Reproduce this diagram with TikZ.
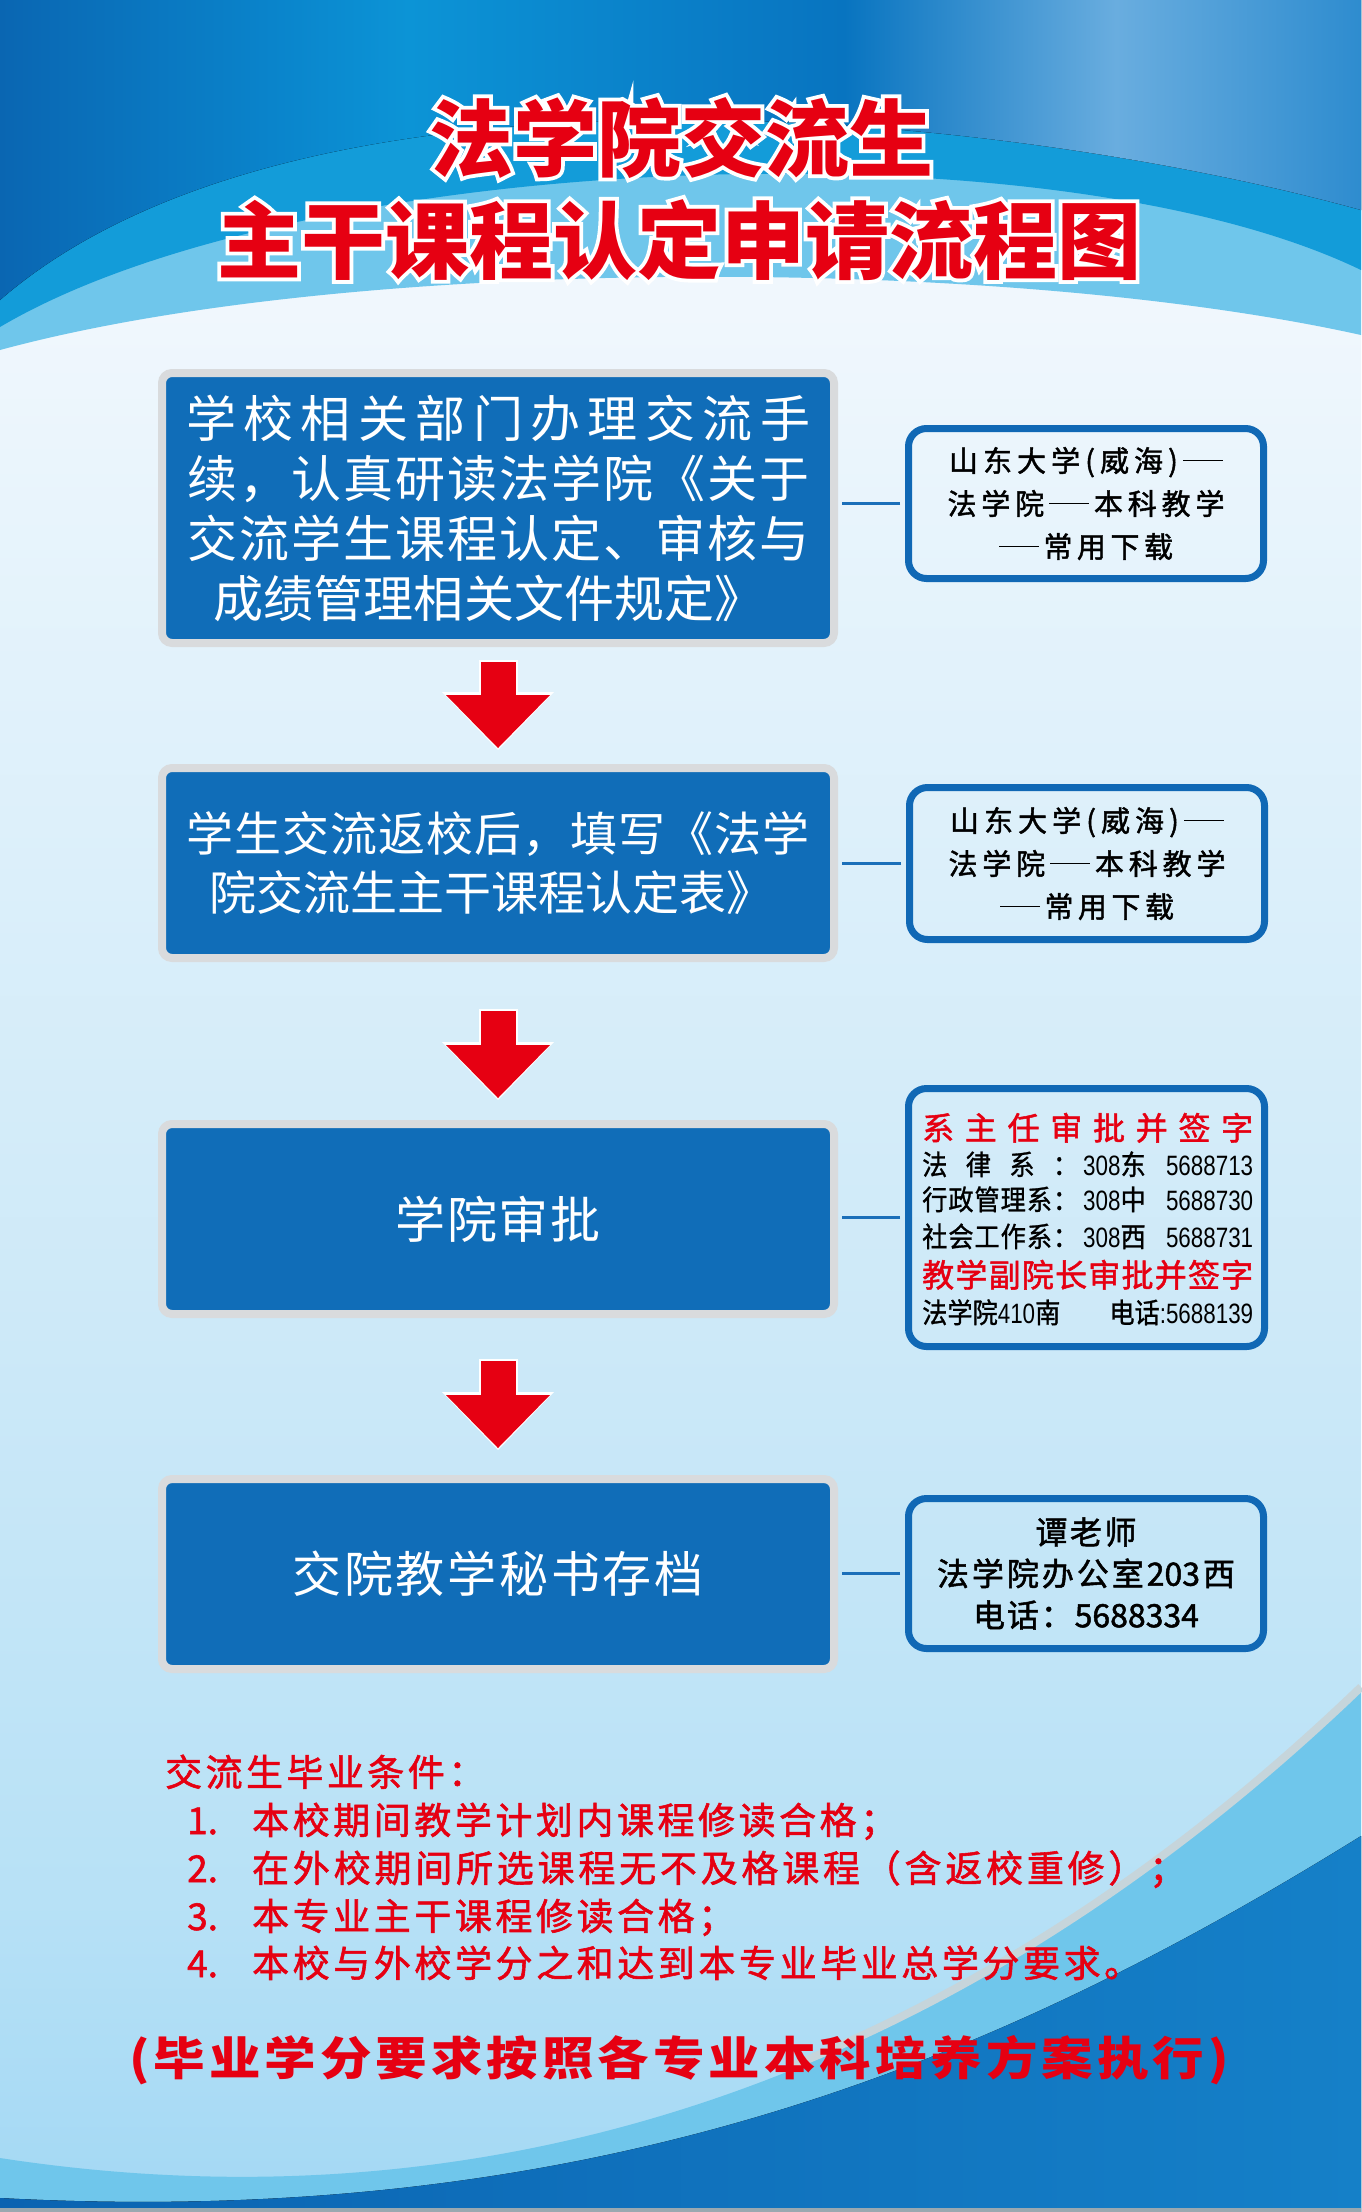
\documentclass[tikz,border=0pt]{standalone}
\usepackage{fontspec}
\usepackage{graphicx}
\setmainfont{Noto Sans CJK SC}
\newfontfamily\cjk{Noto Sans CJK SC}
\newfontfamily\cjkm{Noto Sans CJK SC}[FakeBold=1.5]
\newfontfamily\cjkn{Noto Sans CJK SC}[FakeStretch=0.9, FakeBold=1]
\newfontfamily\cjkwide{Noto Sans CJK SC}[FakeStretch=1.12]
\newfontfamily\titleol{Noto Sans CJK SC}[BoldFeatures={FakeBold=9}]
\newfontfamily\narrowdig{Liberation Sans}[FakeStretch=0.8]
\usetikzlibrary{arrows.meta}

\definecolor{titlered}{HTML}{E60012}
\definecolor{boxblue}{HTML}{106DB8}
\definecolor{boxgray}{HTML}{D9DBDD}
\definecolor{rbblue}{HTML}{1068B5}
\definecolor{linkblue}{HTML}{1B6FB9}
\definecolor{cyanband}{HTML}{6FC6EB}
\definecolor{midband}{HTML}{139CD9}
\definecolor{deepA}{HTML}{0A63B1}
\definecolor{deepB}{HTML}{1580C8}
\definecolor{swoosh}{HTML}{C6D5DB}
\definecolor{edgegray}{HTML}{9AA8B0}
% background (vertical, 0bp = bottom)
\definecolor{bgA}{HTML}{A3D8F4}
\definecolor{bgB}{HTML}{B7E1F6}
\definecolor{bgC}{HTML}{CDE9F8}
\definecolor{bgD}{HTML}{E2F2FB}
\definecolor{bgE}{HTML}{F0F7FD}
% top band (horizontal, 0bp = left)
\definecolor{tA}{HTML}{0A66B2}
\definecolor{tB}{HTML}{0A84CB}
\definecolor{tC}{HTML}{0C94D6}
\definecolor{tD}{HTML}{0A7FC8}
\definecolor{tE}{HTML}{0874C0}
\definecolor{tF}{HTML}{69ADDF}
\definecolor{tG}{HTML}{2E8CCF}

\pgfdeclareverticalshading{bgsh}{100bp}{color(0bp)=(bgA); color(25bp)=(bgA); color(32bp)=(bgB); color(45bp)=(bgC); color(60bp)=(bgD); color(68bp)=(bgE); color(75bp)=(bgE); color(100bp)=(bgE)}
\pgfdeclarehorizontalshading{topsh}{100bp}{color(0bp)=(tA); color(25bp)=(tA); color(35bp)=(tB); color(40bp)=(tC); color(50bp)=(tD); color(56bp)=(tE); color(66bp)=(tF); color(75bp)=(tG); color(100bp)=(tG)}

% spread a string of tokens evenly over a given width
\makeatletter
\newcommand\sprd[2]{\makebox[#1][s]{\sprd@go#2\sprd@end}}
\def\sprd@go#1{#1\futurelet\sprd@next\sprd@chk}
\def\sprd@chk{\ifx\sprd@next\sprd@end\expandafter\@gobble\else\hfil\expandafter\sprd@go\fi}
\def\sprd@end{SPRDEND}
\makeatother

\newcommand\nd[1]{{\narrowdig #1}}
\newcommand\ldash[1]{\rule[0.35em]{#1}{1.8pt}}
% white halo behind a bold title line
\newcommand\halo[1]{\rlap{\color{white}\titleol\bfseries #1}#1}

\begin{document}
\begin{tikzpicture}[x=1pt,y=-1pt,
  mainbox/.style={rectangle, fill=boxblue, draw=boxgray, line width=8pt,
    rounded corners=10pt, minimum width=672pt, text=white, align=center, inner sep=0pt},
  infobox/.style={rectangle, draw=rbblue, line width=7pt, rounded corners=18pt,
    minimum width=355pt, align=center, inner sep=0pt, text=black},
  link/.style={draw=linkblue, line width=3pt, shorten <=5pt, shorten >=4pt},
  flowout/.style={draw=white, line width=39pt,
    -{Triangle[width=112pt,length=58pt,line width=0pt]}},
  flowin/.style={draw=titlered, line width=35pt,
    -{Triangle[width=104pt,length=53pt,line width=0pt]}},
  titletext/.style={anchor=base, inner sep=0pt, text=titlered,
    font=\cjk\bfseries\fontsize{84}{84}\selectfont},
  gradtext/.style={anchor=base west, inner sep=0pt, text=titlered,
    font=\cjkm\fontsize{37}{37}\selectfont},
  r3txt/.style={anchor=base west, inner sep=0pt, text=black,
    font=\cjkn\fontsize{28}{28}\selectfont},
  r3red/.style={r3txt, text=titlered, font=\cjkm\fontsize{32}{32}\selectfont},
  notetext/.style={anchor=base, inner sep=0pt, text=titlered,
    font=\cjkwide\bfseries\fontsize{46}{46}\selectfont}
]
\useasboundingbox (0,0) rectangle (1361,2212);

% ---------- background ----------
\fill[shading=bgsh] (0,0) rectangle (1361,2212);
\fill[cyanband] (0,0) -- (1361,0) -- (1361,335) .. controls (1000,255) and (350,255) .. (0,350) -- cycle;
\fill[midband] (0,0) -- (1361,0) -- (1361,270) .. controls (1050,120) and (300,150) .. (0,327) -- cycle;
\fill[shading=topsh] (0,0) -- (1361,0) -- (1361,210) .. controls (1000,110) and (300,40) .. (0,300) -- cycle;

\fill[cyanband] (1361,1691) .. controls (1050,1990) and (600,2250) .. (0,2158) -- (0,2212) -- (1361,2212) -- cycle;
\fill[left color=deepA, right color=deepB] (1361,1836) .. controls (1000,2060) and (600,2230) .. (0,2198) -- (0,2212) -- (1361,2212) -- cycle;
\draw[swoosh, line width=8pt] (1361,1687) .. controls (1205.5,1836.5) and (1015.25,1976.25) .. (788.9,2067.1);
\fill[edgegray] (0,2208) rectangle (1361,2212);

% ---------- title ----------
\node[titletext] (t1) at (681,170) {\halo{法学院交流生}};
\node[titletext] (t2) at (679,272) {\halo{主干课程认定申请流程图}};

% ---------- main flow ----------
\node[mainbox, minimum height=270pt, font=\cjk\fontsize{50}{60}\selectfont] (b1) at (498,508)
  {\sprd{624pt}{学校相关部门办理交流手}\\\sprd{622pt}{续，认真研读法学院《关于}\\\sprd{622pt}{交流学生课程认定、审核与}\\\sprd{551pt}{成绩管理相关文件规定》}\hspace*{18pt}};
\node[mainbox, minimum height=190pt, font=\cjk\fontsize{47}{59}\selectfont] (b2) at (498,863)
  {\sprd{624pt}{学生交流返校后，填写《法学}\\\sprd{556pt}{院交流生主干课程认定表》}\hspace*{22pt}};
\node[mainbox, minimum height=190pt, font=\cjk\fontsize{50}{60}\selectfont] (b3) at (498,1219)
  {\sprd{205pt}{学院审批}};
\node[mainbox, minimum height=190pt, font=\cjk\fontsize{49}{60}\selectfont] (b4) at (498,1574)
  {\sprd{411pt}{交院教学秘书存档}};

% arrows
\draw[flowout, shorten <=13pt, shorten >=14pt] (b1.south) -- (b2.north);
\draw[flowin,  shorten <=15pt, shorten >=16pt] (b1.south) -- (b2.north);
\draw[flowout, shorten <=47pt, shorten >=20pt] (b2.south) -- (b3.north);
\draw[flowin,  shorten <=49pt, shorten >=22pt] (b2.south) -- (b3.north);
\draw[flowout, shorten <=41pt, shorten >=25pt] (b3.south) -- (b4.north);
\draw[flowin,  shorten <=43pt, shorten >=27pt] (b3.south) -- (b4.north);

% ---------- side boxes ----------
\node[infobox, minimum height=150pt, font=\cjkm\fontsize{29}{43}\selectfont] (r1) at (1086,503.5)
  {\sprd{274pt}{山东大学(威海){\ldash{40pt}}}\\\sprd{277pt}{法学院{\ldash{40pt}}本科教学}\\\sprd{174pt}{{\ldash{40pt}}常用下载}};
\node[infobox, minimum height=152pt, font=\cjkm\fontsize{29}{43}\selectfont] (r2) at (1087,863.5)
  {\sprd{274pt}{山东大学(威海){\ldash{40pt}}}\\\sprd{277pt}{法学院{\ldash{40pt}}本科教学}\\\sprd{174pt}{{\ldash{40pt}}常用下载}};
\node[infobox, minimum height=258pt, minimum width=356pt] (r3) at (1086.5,1217.5) {};
\node[infobox, minimum height=150pt, font=\cjkm\fontsize{32}{41.5}\selectfont] (r4) at (1086,1573.5)
  {\sprd{101pt}{谭老师}\\\sprd{298pt}{法学院办公室{203}西}\hspace*{16pt}\\\sprd{226pt}{电话：{5688334}}};

\node[r3red] (r3a) at (922,1140) {\sprd{331pt}{系主任审批并签字}};
\node[r3txt] (r3b) at (922,1175) {\makebox[331pt][l]{\sprd{156pt}{法律系：}\hspace{5pt}\nd{308}东\hfill\nd{5688713}}};
\node[r3txt] (r3c) at (922,1210) {\makebox[331pt][l]{\sprd{156pt}{行政管理系：}\hspace{5pt}\nd{308}中\hfill\nd{5688730}}};
\node[r3txt] (r3d) at (922,1247) {\makebox[331pt][l]{\sprd{156pt}{社会工作系：}\hspace{5pt}\nd{308}西\hfill\nd{5688731}}};
\node[r3red] (r3e) at (922,1287) {\sprd{331pt}{教学副院长审批并签字}};
\node[r3txt] (r3f) at (922,1323) {\makebox[331pt][l]{法学院\nd{410}南\hfill 电话\nd{:5688139}}};

% connectors to side boxes
\draw[link] (r1.west) -- (r1.west -| b1.east);
\draw[link] (r2.west) -- (r2.west -| b2.east);
\draw[link] (r3.west) -- (r3.west -| b3.east);
\draw[link] (r4.west) -- (r4.west -| b4.east);

% ---------- graduation conditions ----------
\node[gradtext] (g0) at (165,1786) {\sprd{320pt}{交流生毕业条件：}};
\node[gradtext] (g1) at (187,1834) {\makebox[65pt][l]{1.}\sprd{645pt}{本校期间教学计划内课程修读合格；}};
\node[gradtext] (g2) at (187,1882) {\makebox[65pt][l]{2.}\sprd{934pt}{在外校期间所选课程无不及格课程（含返校重修）；}};
\node[gradtext] (g3) at (187,1930) {\makebox[65pt][l]{3.}\sprd{483pt}{本专业主干课程修读合格；}};
\node[gradtext] (g4) at (187,1977) {\makebox[65pt][l]{4.}\sprd{889pt}{本校与外校学分之和达到本专业毕业总学分要求。}};

\node[notetext] (note) at (679,2075) {\sprd{1100pt}{(毕业学分要求按照各专业本科培养方案执行)}};
\end{tikzpicture}
\end{document}
